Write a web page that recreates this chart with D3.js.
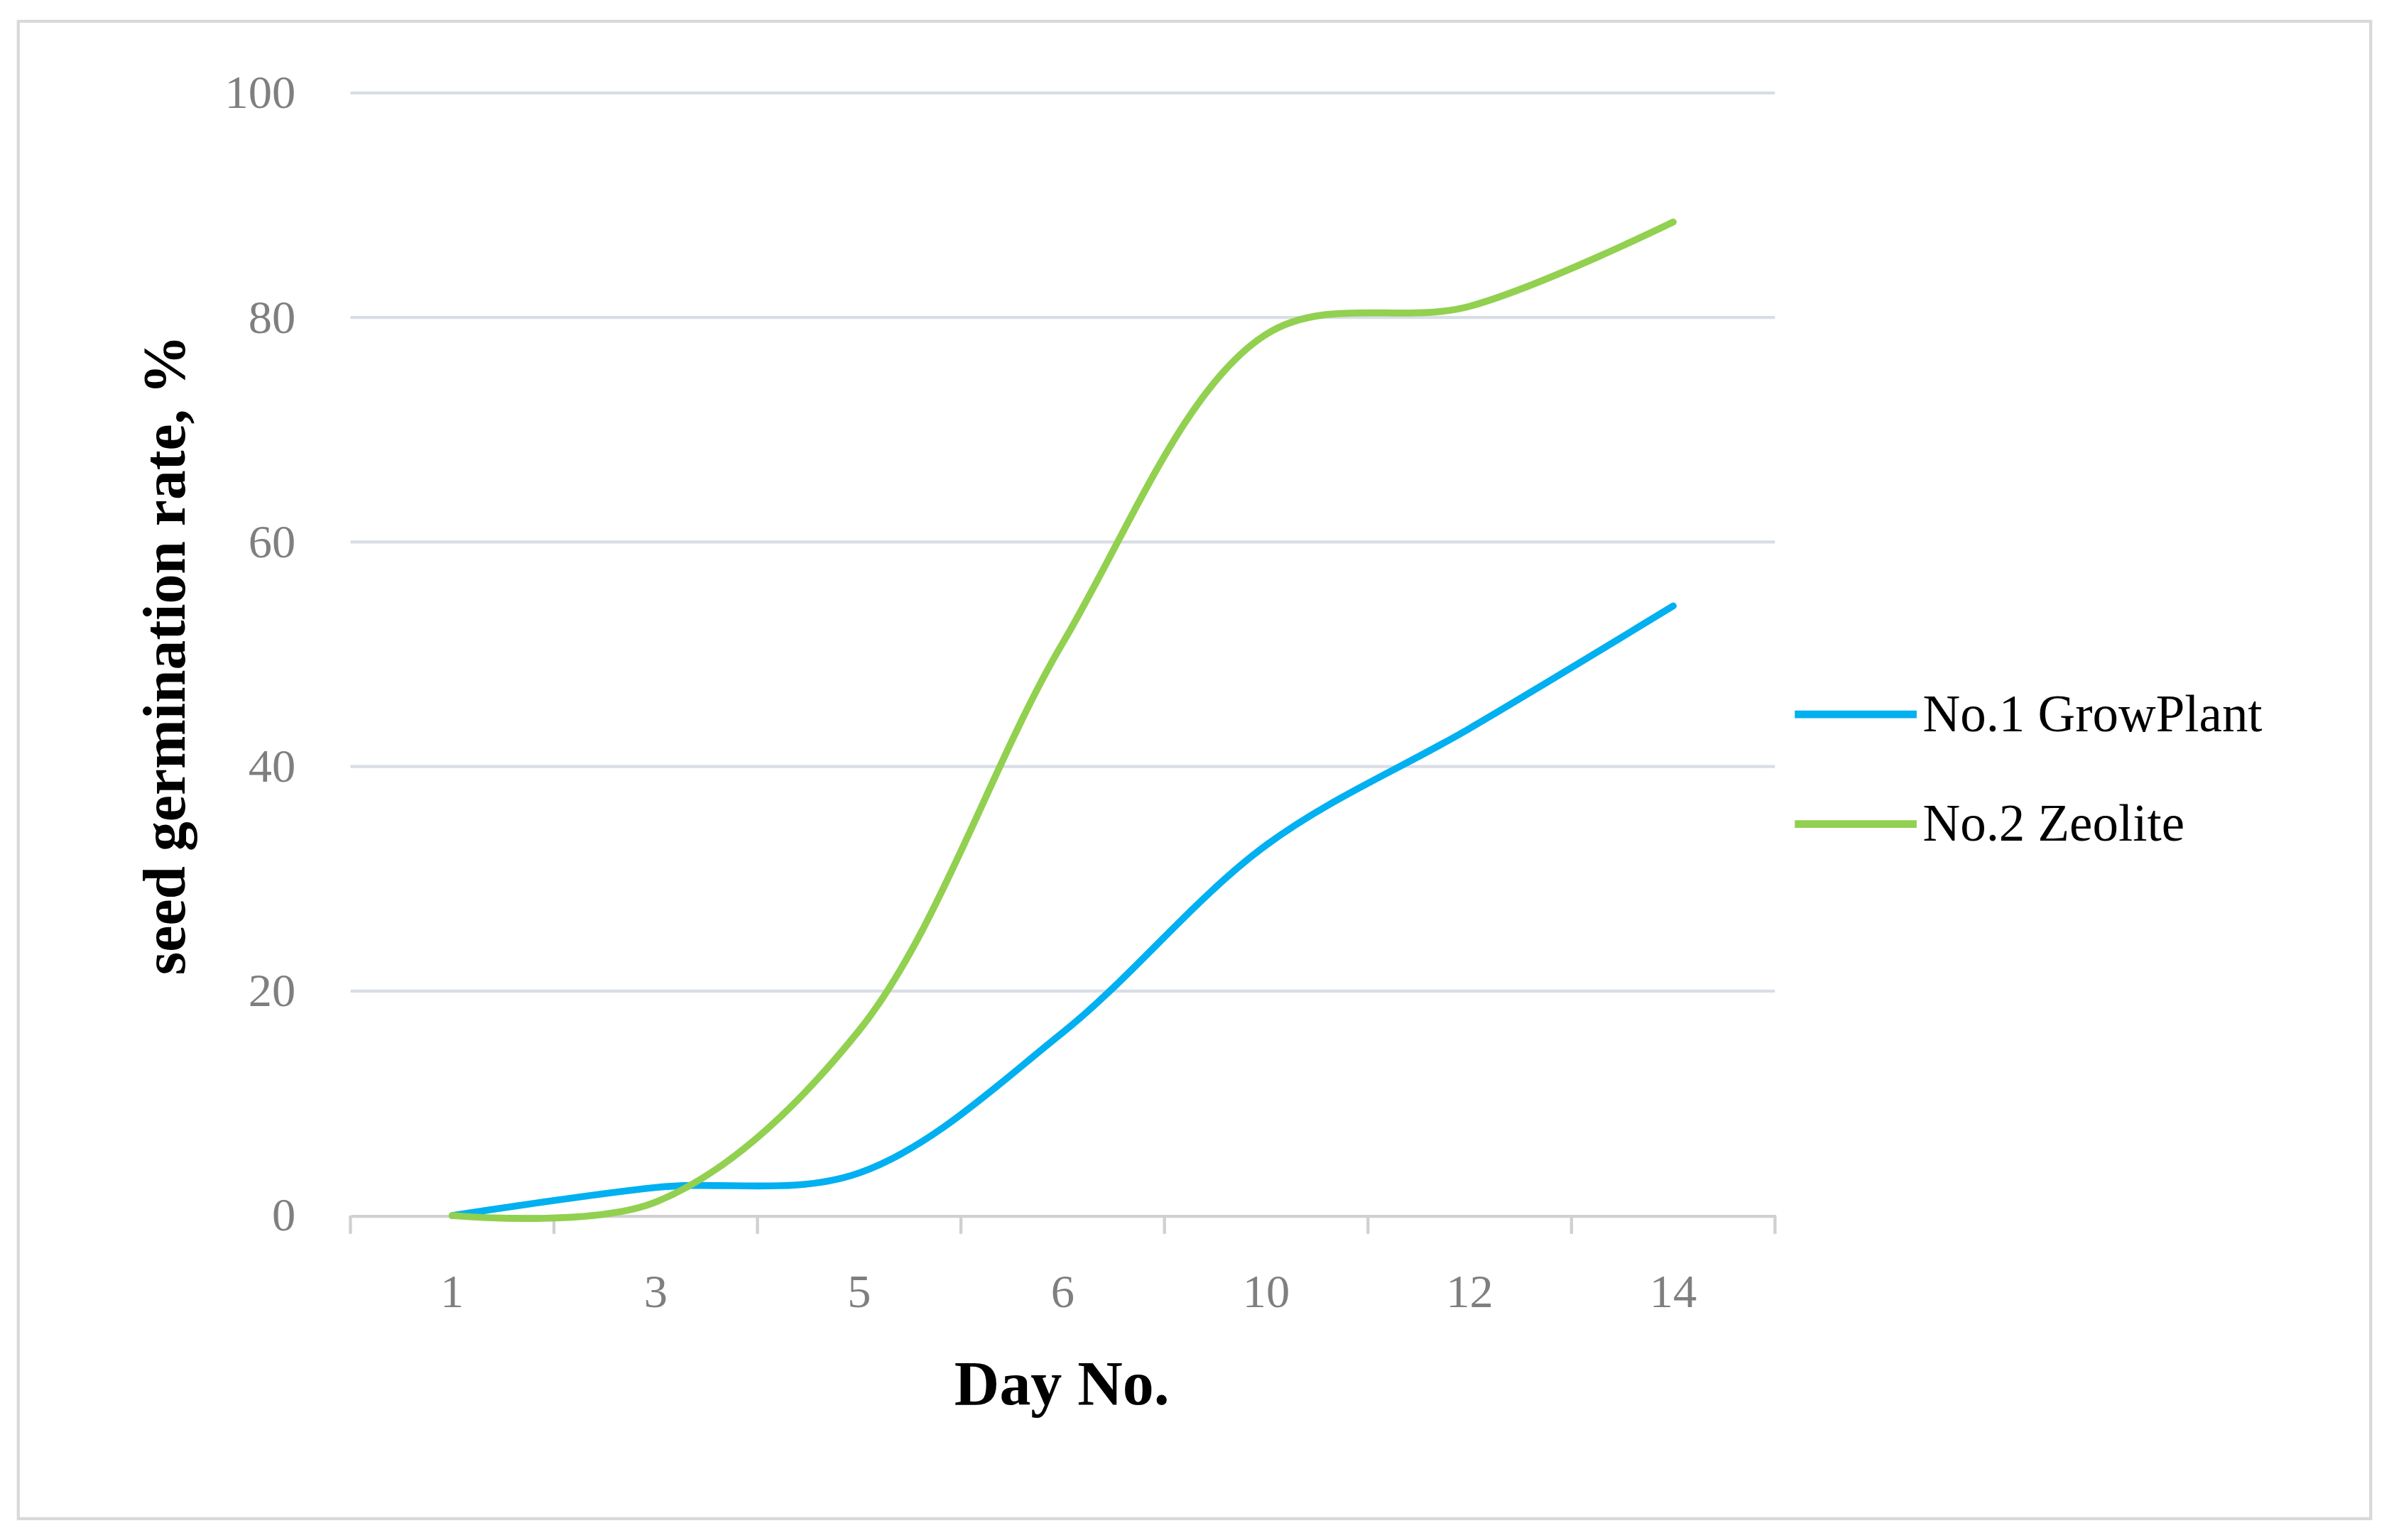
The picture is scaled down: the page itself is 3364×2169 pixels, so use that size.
<!DOCTYPE html>
<html><head><meta charset="utf-8">
<script src="https://cdn.jsdelivr.net/npm/d3@7"></script>
<style>body{margin:0;background:#fff}</style>
</head><body><div id="chart"></div>
<script>
const days = ['1', '3', '5', '6', '10', '12', '14'];
const growPlant = [0, 2.5, 3.8, 16.3, 33, 43.4, 54.3];
const zeolite = [0, 1.2, 16.5, 51, 78.5, 81, 88.5];
const yTicks = [0, 20, 40, 60, 80, 100];
const seriesNames = ['No.1 GrowPlant', 'No.2 Zeolite'];
const colors = ['#00b0f0', '#92d050'];

const svg = d3.select('#chart').append('svg')
  .attr('width', 3364).attr('height', 2169)
  .attr('viewBox', '0 0 1568 1011');
const font = "'Liberation Serif','DejaVu Serif',serif";

svg.append('rect').attr('x', 12).attr('y', 14).attr('width', 1544).attr('height', 983)
  .attr('fill', 'none').attr('stroke', '#d9d9d9').attr('stroke-width', 2);

const x = d3.scaleBand().domain(days).range([230, 1165]);
const y = d3.scaleLinear().domain([0, 100]).range([798, 61]);

// gridlines
svg.selectAll('.grid').data(yTicks.filter(d => d > 0)).enter().append('line')
  .attr('x1', 230).attr('x2', 1165)
  .attr('y1', d => y(d)).attr('y2', d => y(d))
  .attr('stroke', '#d9dde6').attr('stroke-width', 2);

// y labels
svg.selectAll('.ylab').data(yTicks).enter().append('text')
  .attr('x', 194).attr('y', d => y(d) + 10)
  .attr('text-anchor', 'end').attr('font-family', font).attr('font-size', 31)
  .attr('fill', '#7f7f7f').text(d => d);

// x axis
const xAxis = d3.axisBottom(x).tickSize(0).tickPadding(38);
const gx = svg.append('g').attr('transform', 'translate(0,798)').call(xAxis);
gx.select('.domain').attr('stroke', '#d0d0d0').attr('stroke-width', 2);
gx.selectAll('text').attr('font-family', font).attr('font-size', 31).attr('fill', '#7f7f7f');
const edges = days.map(d => x(d)).concat([x.range()[1]]);
svg.selectAll('.xt').data(edges).enter().append('line')
  .attr('x1', d => d).attr('x2', d => d).attr('y1', 798).attr('y2', 810)
  .attr('stroke', '#d0d0d0').attr('stroke-width', 2);

// lines
const line = d3.line()
  .x((d, i) => x(days[i]) + x.bandwidth() / 2)
  .y(d => y(d))
  .curve(d3.curveCatmullRom.alpha(0.5));
[growPlant, zeolite].forEach((s, i) => {
  svg.append('path').datum(s).attr('d', line)
    .attr('fill', 'none').attr('stroke', colors[i]).attr('stroke-width', 4.5)
    .attr('stroke-linecap', 'round');
});

// axis titles
svg.append('text').attr('x', 697).attr('y', 922).attr('text-anchor', 'middle')
  .attr('font-family', font).attr('font-weight', 'bold').attr('font-size', 41).text('Day No.');
svg.append('text').attr('transform', 'translate(121,430) rotate(-90)').attr('text-anchor', 'middle')
  .attr('font-family', font).attr('font-weight', 'bold').attr('font-size', 39).text('seed germination rate, %');

// legend
seriesNames.forEach((n, i) => {
  const ly = 469 + i * 72;
  svg.append('line').attr('x1', 1178).attr('x2', 1258).attr('y1', ly).attr('y2', ly)
    .attr('stroke', colors[i]).attr('stroke-width', 5);
  svg.append('text').attr('x', 1262).attr('y', ly + 11).attr('font-family', font)
    .attr('font-size', 34).attr('fill', '#000').text(n);
});
</script></body></html>
